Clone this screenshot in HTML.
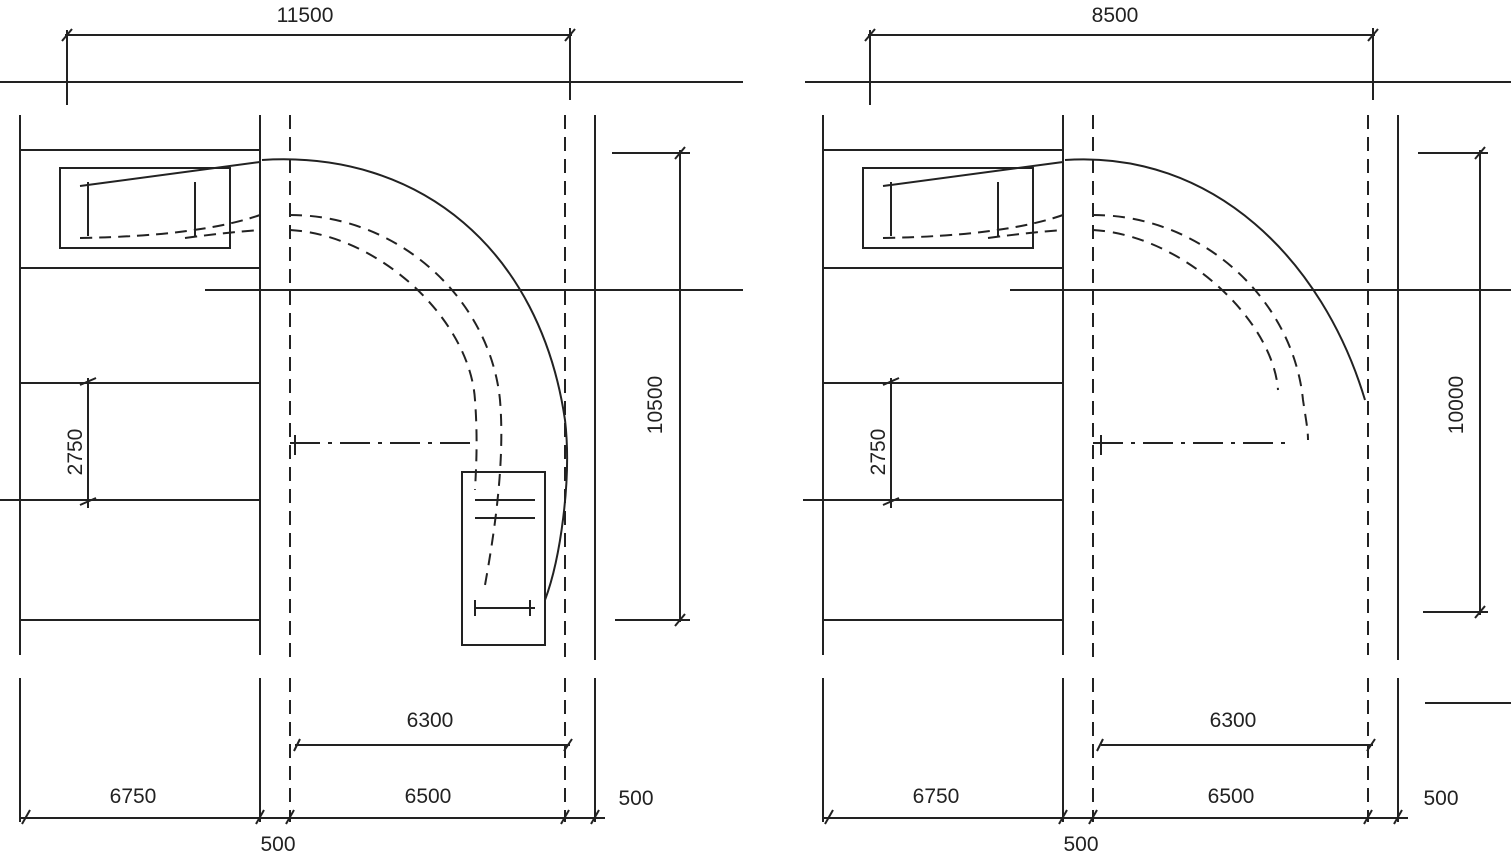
<!DOCTYPE html>
<html><head><meta charset="utf-8"><style>
html,body{margin:0;padding:0;background:#fff;}
svg{display:block;}
text{font-family:"Liberation Sans",sans-serif;font-size:21px;fill:#222;stroke:none;}
</style></head><body>
<svg width="1511" height="855" viewBox="0 0 1511 855" xmlns="http://www.w3.org/2000/svg">
<defs>
<g id="common">
<g stroke="#222" stroke-width="2" fill="none">
  <line x1="20" y1="115" x2="20" y2="655"/>
  <line x1="20" y1="150" x2="260" y2="150"/>
  <line x1="20" y1="268" x2="260" y2="268"/>
  <line x1="20" y1="383" x2="260" y2="383"/>
  <line x1="0" y1="500" x2="260" y2="500"/>
  <line x1="20" y1="620" x2="260" y2="620"/>
  <line x1="260" y1="115" x2="260" y2="655"/>
  <line x1="290" y1="115" x2="290" y2="660" stroke-dasharray="14,8"/>
  <rect x="60" y="168" width="170" height="80"/>
  <line x1="88" y1="182" x2="88" y2="236"/>
  <line x1="195" y1="182" x2="195" y2="236"/>
  <path d="M80 186 Q140 178 260 162"/>
  <path d="M80 238 Q200 236 260 215" stroke-dasharray="12,7"/>
  <path d="M185 238 Q230 232 260 230" stroke-dasharray="12,7"/>
  <line x1="88" y1="378" x2="88" y2="508"/>
  <line x1="80" y1="385" x2="96" y2="378"/>
  <line x1="80" y1="505" x2="96" y2="498"/>
  <line x1="20" y1="678" x2="20" y2="822"/>
  <line x1="260" y1="678" x2="260" y2="822"/>
  <line x1="290" y1="678" x2="290" y2="822" stroke-dasharray="14,8"/>
  <line x1="20" y1="818" x2="275" y2="818"/>
  <line x1="22" y1="824" x2="30" y2="810"/>
  <line x1="256" y1="824" x2="264" y2="810"/>
  <line x1="286" y1="824" x2="294" y2="810"/>
  <line x1="561" y1="824" x2="569" y2="810"/>
  <line x1="591" y1="824" x2="599" y2="810"/>
  <line x1="294" y1="751" x2="300" y2="739"/>
  <line x1="564" y1="751" x2="572" y2="739"/>
  <line x1="62" y1="41" x2="72" y2="29"/>
  <line x1="565" y1="41" x2="575" y2="29"/>
</g>
  <text x="0" y="0" transform="translate(82,452) rotate(-90)" text-anchor="middle">2750</text>
  <text x="133" y="803" text-anchor="middle">6750</text>
  <text x="278" y="851" text-anchor="middle">500</text>
</g>
</defs>

<g stroke="#222" stroke-width="2" fill="none">
  <line x1="65" y1="35" x2="572" y2="35"/>
  <line x1="67" y1="30" x2="67" y2="105"/>
  <line x1="570" y1="28" x2="570" y2="100"/>
  <line x1="0" y1="82" x2="743" y2="82"/>
  <line x1="205" y1="290" x2="743" y2="290"/>
  <line x1="565" y1="115" x2="565" y2="660" stroke-dasharray="14,8"/>
  <line x1="595" y1="115" x2="595" y2="660"/>
  <path d="M262 160 C420 150 540 250 565 420 C572 480 560 560 545 600"/>
  <path d="M290 215 C400 215 490 300 500 400 C505 460 495 530 485 585" stroke-dasharray="12,8"/>
  <path d="M290 230 C380 235 470 320 475 400 C478 440 476 470 475 490" stroke-dasharray="12,8"/>
  <line x1="290" y1="443" x2="470" y2="443" stroke-dasharray="30,8,4,8"/>
  <line x1="295" y1="435" x2="295" y2="455"/>
  <rect x="462" y="472" width="83" height="173"/>
  <line x1="475" y1="500" x2="535" y2="500"/>
  <line x1="475" y1="518" x2="535" y2="518"/>
  <line x1="475" y1="608" x2="535" y2="608"/>
  <line x1="475" y1="600" x2="475" y2="616"/>
  <line x1="530" y1="600" x2="530" y2="616"/>
  <line x1="680" y1="150" x2="680" y2="622"/>
  <line x1="612" y1="153" x2="690" y2="153"/>
  <line x1="615" y1="620" x2="690" y2="620"/>
  <line x1="675" y1="159" x2="685" y2="147"/>
  <line x1="675" y1="626" x2="685" y2="614"/>
  <line x1="565" y1="678" x2="565" y2="822" stroke-dasharray="14,8"/>
  <line x1="595" y1="678" x2="595" y2="822"/>
  <line x1="295" y1="745" x2="570" y2="745"/>
  <line x1="275" y1="818" x2="605" y2="818"/>
</g>
<use href="#common"/>
<text x="305" y="22" text-anchor="middle">11500</text>
<text x="0" y="0" transform="translate(662,405) rotate(-90)" text-anchor="middle">10500</text>
<text x="430" y="727" text-anchor="middle">6300</text>
<text x="428" y="803" text-anchor="middle">6500</text>
<text x="636" y="805" text-anchor="middle">500</text>

<g transform="translate(803,0)">
<use href="#common"/>
<g stroke="#222" stroke-width="2" fill="none">
  <line x1="65" y1="35" x2="572" y2="35"/>
  <line x1="67" y1="30" x2="67" y2="105"/>
  <line x1="570" y1="28" x2="570" y2="100"/>
  <line x1="2" y1="82" x2="708" y2="82"/>
  <line x1="207" y1="290" x2="708" y2="290"/>
  <line x1="565" y1="115" x2="565" y2="655" stroke-dasharray="14,8"/>
  <line x1="595" y1="115" x2="595" y2="660"/>
  <path d="M262 160 C410 150 520 260 562 400"/>
  <path d="M290 215 C400 215 490 300 500 400 C503 420 505 430 505 440" stroke-dasharray="12,8"/>
  <path d="M290 230 C380 235 470 320 475 390" stroke-dasharray="12,8"/>
  <line x1="290" y1="443" x2="490" y2="443" stroke-dasharray="30,8,4,8"/>
  <line x1="298" y1="435" x2="298" y2="455"/>
  <line x1="677" y1="150" x2="677" y2="615"/>
  <line x1="615" y1="153" x2="685" y2="153"/>
  <line x1="620" y1="612" x2="685" y2="612"/>
  <line x1="672" y1="159" x2="682" y2="147"/>
  <line x1="672" y1="618" x2="682" y2="606"/>
  <line x1="622" y1="703" x2="708" y2="703"/>
  <line x1="565" y1="678" x2="565" y2="822" stroke-dasharray="14,8"/>
  <line x1="595" y1="678" x2="595" y2="822"/>
  <line x1="298" y1="745" x2="570" y2="745"/>
  <line x1="275" y1="818" x2="605" y2="818"/>
</g>
<text x="312" y="22" text-anchor="middle">8500</text>
<text x="0" y="0" transform="translate(660,405) rotate(-90)" text-anchor="middle">10000</text>
<text x="430" y="727" text-anchor="middle">6300</text>
<text x="428" y="803" text-anchor="middle">6500</text>
<text x="638" y="805" text-anchor="middle">500</text>
</g>
</svg>
</body></html>
